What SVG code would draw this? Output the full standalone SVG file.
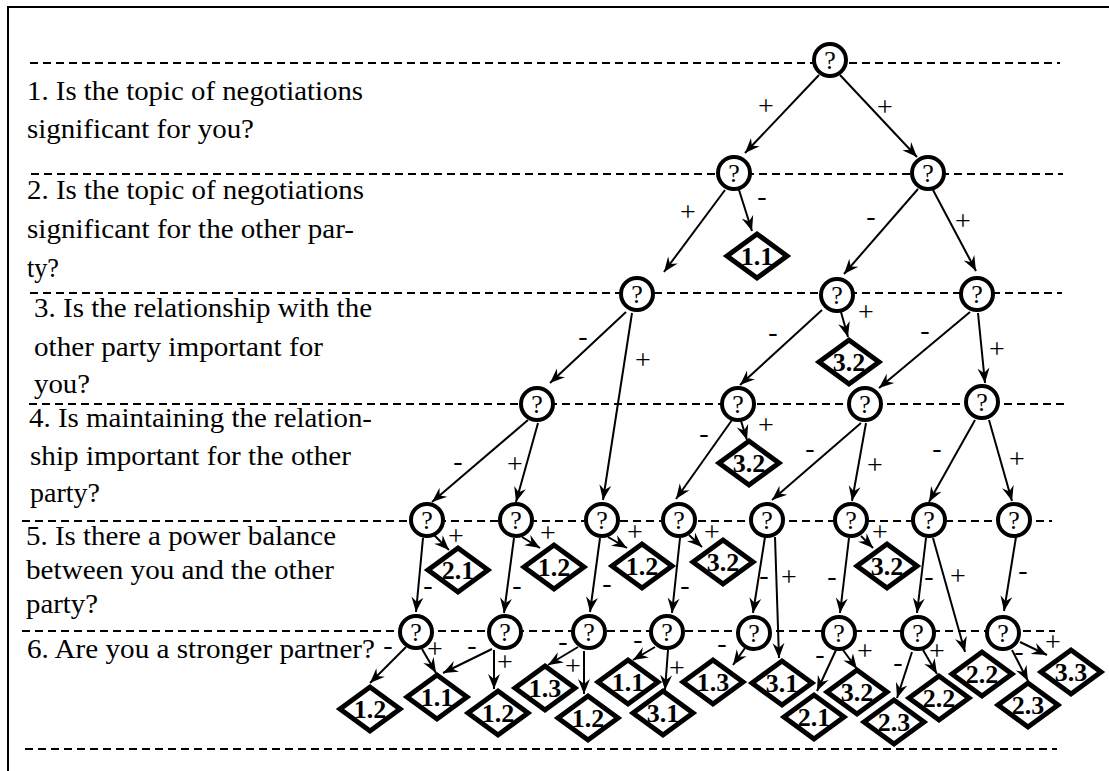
<svg xmlns="http://www.w3.org/2000/svg" xmlns:xlink="http://www.w3.org/1999/xlink" width="1109" height="771" viewBox="0 0 1109 771">
<style>
.frame{stroke:#000;stroke-width:2;fill:none}
.dash{stroke:#000;stroke-width:1.8;stroke-dasharray:8 5;fill:none}
.q circle{fill:#fff;stroke:#000;stroke-width:4}
.q text{font-family:"Liberation Serif",serif;font-size:26px;text-anchor:middle}
.leaf use{fill:#fff;stroke:#000;stroke-width:5;stroke-linejoin:miter}
.leaf text{font-family:"Liberation Serif",serif;font-weight:bold;font-size:26px;text-anchor:middle}
.edges line{stroke:#000;stroke-width:2;marker-end:url(#arr)}
.lbl text{font-family:"Liberation Serif",serif;font-size:28px;text-anchor:middle}
.qs text{font-family:"Liberation Serif",serif;font-size:28px}
</style>
<defs>
<marker id="arr" markerUnits="userSpaceOnUse" markerWidth="16" markerHeight="14" refX="15" refY="7" orient="auto">
<path d="M0,1 L15,7 L0,13 L5,7 Z" fill="#000"/>
</marker>
<path id="dia" d="M-30 0L0-22L30 0L0 22Z"/>
</defs>
<rect width="1109" height="771" fill="#fff"/>
<path class="frame" d="M8 771V7H1109"/>
<g id="guides">
<line class="dash" x1="30" y1="63" x2="1060" y2="63"/>
<line class="dash" x1="31" y1="174" x2="1063" y2="174"/>
<line class="dash" x1="30" y1="293" x2="1062" y2="293"/>
<line class="dash" x1="29" y1="404" x2="1065" y2="404"/>
<line class="dash" x1="22" y1="521" x2="1052" y2="521"/>
<line class="dash" x1="22" y1="631" x2="1055" y2="631"/>
<line class="dash" x1="25" y1="749" x2="1057" y2="749"/>
</g>
<g id="questions" class="qs">
<text x="27" y="100" textLength="336" lengthAdjust="spacingAndGlyphs">1. Is the topic of negotiations</text>
<text x="27" y="138" textLength="227" lengthAdjust="spacingAndGlyphs">significant for you?</text>
<text x="27" y="199" textLength="337" lengthAdjust="spacingAndGlyphs">2. Is the topic of negotiations</text>
<text x="27" y="238" textLength="327" lengthAdjust="spacingAndGlyphs">significant for the other par-</text>
<text x="27" y="277" textLength="32" lengthAdjust="spacingAndGlyphs">ty?</text>
<text x="34" y="317" textLength="338" lengthAdjust="spacingAndGlyphs">3. Is the relationship with the</text>
<text x="34" y="356" textLength="289" lengthAdjust="spacingAndGlyphs">other party important for</text>
<text x="34" y="393" textLength="56" lengthAdjust="spacingAndGlyphs">you?</text>
<text x="29" y="427" textLength="343" lengthAdjust="spacingAndGlyphs">4. Is maintaining the relation-</text>
<text x="30" y="465" textLength="321" lengthAdjust="spacingAndGlyphs">ship important for the other</text>
<text x="30" y="502" textLength="70" lengthAdjust="spacingAndGlyphs">party?</text>
<text x="26" y="545" textLength="310" lengthAdjust="spacingAndGlyphs">5. Is there a power balance</text>
<text x="26" y="579" textLength="308" lengthAdjust="spacingAndGlyphs">between you and the other</text>
<text x="26" y="613" textLength="72" lengthAdjust="spacingAndGlyphs">party?</text>
<text x="27" y="658" textLength="348" lengthAdjust="spacingAndGlyphs">6. Are you a stronger partner?</text>
</g>
<g id="connectors" class="edges">
<line x1="819" y1="75" x2="745" y2="153"/>
<line x1="840" y1="75" x2="917" y2="157"/>
<line x1="725" y1="190" x2="664" y2="272"/>
<line x1="739" y1="190" x2="752" y2="231"/>
<line x1="918" y1="189" x2="844" y2="274"/>
<line x1="933" y1="190" x2="976" y2="271"/>
<line x1="626" y1="312" x2="550" y2="383"/>
<line x1="632" y1="313" x2="603" y2="500"/>
<line x1="841" y1="312" x2="848" y2="337"/>
<line x1="822" y1="310" x2="740" y2="385"/>
<line x1="970" y1="312" x2="879" y2="388"/>
<line x1="978" y1="313" x2="985" y2="383"/>
<line x1="528" y1="420" x2="432" y2="502"/>
<line x1="538" y1="423" x2="516" y2="502"/>
<line x1="741" y1="421" x2="747" y2="440"/>
<line x1="732" y1="420" x2="676" y2="499"/>
<line x1="861" y1="423" x2="772" y2="500"/>
<line x1="866" y1="423" x2="852" y2="501"/>
<line x1="975" y1="420" x2="929" y2="502"/>
<line x1="989" y1="420" x2="1012" y2="501"/>
<line x1="434" y1="535" x2="449" y2="550"/>
<line x1="423" y1="538" x2="416" y2="612"/>
<line x1="522" y1="537" x2="540" y2="548"/>
<line x1="514" y1="538" x2="504" y2="613"/>
<line x1="608" y1="537" x2="627" y2="548"/>
<line x1="600" y1="538" x2="590" y2="612"/>
<line x1="689" y1="535" x2="702" y2="547"/>
<line x1="680" y1="538" x2="672" y2="613"/>
<line x1="765" y1="537" x2="753" y2="613"/>
<line x1="775" y1="537" x2="779" y2="658"/>
<line x1="861" y1="536" x2="873" y2="548"/>
<line x1="849" y1="538" x2="840" y2="613"/>
<line x1="926" y1="538" x2="917" y2="613"/>
<line x1="933" y1="538" x2="965" y2="652"/>
<line x1="1016" y1="537" x2="1004" y2="611"/>
<line x1="406" y1="647" x2="370" y2="683"/>
<line x1="422" y1="649" x2="436" y2="673"/>
<line x1="492" y1="649" x2="443" y2="673"/>
<line x1="494" y1="650" x2="494" y2="689"/>
<line x1="578" y1="647" x2="548" y2="665"/>
<line x1="584" y1="651" x2="584" y2="694"/>
<line x1="655" y1="647" x2="633" y2="660"/>
<line x1="668" y1="650" x2="665" y2="690"/>
<line x1="745" y1="648" x2="733" y2="665"/>
<line x1="836" y1="650" x2="817" y2="691"/>
<line x1="843" y1="650" x2="857" y2="669"/>
<line x1="912" y1="652" x2="897" y2="698"/>
<line x1="923" y1="650" x2="937" y2="674"/>
<line x1="1012" y1="650" x2="1028" y2="681"/>
<line x1="1020" y1="642" x2="1047" y2="655"/>
</g>
<g id="edge-labels" class="lbl">
<text x="766" y="115">+</text>
<text x="885" y="116">+</text>
<text x="688" y="221">+</text>
<text x="762" y="205">-</text>
<text x="871" y="225">-</text>
<text x="963" y="230">+</text>
<text x="583" y="345">-</text>
<text x="643" y="369">+</text>
<text x="866" y="321">+</text>
<text x="773" y="341">-</text>
<text x="925" y="339">-</text>
<text x="997" y="358">+</text>
<text x="458" y="470">-</text>
<text x="515" y="473">+</text>
<text x="766" y="434">+</text>
<text x="704" y="442">-</text>
<text x="810" y="457">-</text>
<text x="875" y="474">+</text>
<text x="937" y="457">-</text>
<text x="1017" y="468">+</text>
<text x="456" y="545">+</text>
<text x="428" y="594">-</text>
<text x="548" y="542">+</text>
<text x="517" y="594">-</text>
<text x="635" y="541">+</text>
<text x="607" y="592">-</text>
<text x="712" y="541">+</text>
<text x="685" y="594">-</text>
<text x="764" y="584">-</text>
<text x="789" y="586">+</text>
<text x="880" y="541">+</text>
<text x="832" y="585">-</text>
<text x="929" y="585">-</text>
<text x="958" y="585">+</text>
<text x="1023" y="579">-</text>
<text x="388" y="654">-</text>
<text x="435" y="658">+</text>
<text x="472" y="654">-</text>
<text x="505" y="671">+</text>
<text x="563" y="650">-</text>
<text x="573" y="675">+</text>
<text x="638" y="648">-</text>
<text x="677" y="677">+</text>
<text x="722" y="652">-</text>
<text x="820" y="663">-</text>
<text x="865" y="660">+</text>
<text x="898" y="671">-</text>
<text x="937" y="660">+</text>
<text x="1019" y="660">-</text>
<text x="1053" y="651">+</text>
</g>
<g id="n1" class="q"><circle cx="830" cy="60" r="16"/><text x="830" y="69">?</text></g>
<g id="n2a" class="q"><circle cx="734" cy="173" r="16"/><text x="734" y="182">?</text></g>
<g id="n2b" class="q"><circle cx="928" cy="173" r="16"/><text x="928" y="182">?</text></g>
<g id="n3a" class="q"><circle cx="637" cy="294" r="16"/><text x="637" y="303">?</text></g>
<g id="n3b" class="q"><circle cx="837" cy="295" r="16"/><text x="837" y="304">?</text></g>
<g id="n3c" class="q"><circle cx="977" cy="294" r="16"/><text x="977" y="303">?</text></g>
<g id="n4a" class="q"><circle cx="537" cy="404" r="16"/><text x="537" y="413">?</text></g>
<g id="n4b" class="q"><circle cx="738" cy="404" r="16"/><text x="738" y="413">?</text></g>
<g id="n4c" class="q"><circle cx="865" cy="404" r="16"/><text x="865" y="413">?</text></g>
<g id="n4d" class="q"><circle cx="982" cy="402" r="16"/><text x="982" y="411">?</text></g>
<g id="n5a" class="q"><circle cx="427" cy="520" r="16"/><text x="427" y="529">?</text></g>
<g id="n5b" class="q"><circle cx="516" cy="520" r="16"/><text x="516" y="529">?</text></g>
<g id="n5c" class="q"><circle cx="602" cy="520" r="16"/><text x="602" y="529">?</text></g>
<g id="n5d" class="q"><circle cx="679" cy="520" r="16"/><text x="679" y="529">?</text></g>
<g id="n5e" class="q"><circle cx="767" cy="520" r="16"/><text x="767" y="529">?</text></g>
<g id="n5f" class="q"><circle cx="851" cy="520" r="16"/><text x="851" y="529">?</text></g>
<g id="n5g" class="q"><circle cx="929" cy="520" r="16"/><text x="929" y="529">?</text></g>
<g id="n5h" class="q"><circle cx="1014" cy="520" r="16"/><text x="1014" y="529">?</text></g>
<g id="n6a" class="q"><circle cx="416" cy="632" r="16"/><text x="416" y="641">?</text></g>
<g id="n6b" class="q"><circle cx="505" cy="632" r="16"/><text x="505" y="641">?</text></g>
<g id="n6c" class="q"><circle cx="589" cy="632" r="16"/><text x="589" y="641">?</text></g>
<g id="n6d" class="q"><circle cx="667" cy="632" r="16"/><text x="667" y="641">?</text></g>
<g id="n6e" class="q"><circle cx="754" cy="633" r="16"/><text x="754" y="642">?</text></g>
<g id="n6f" class="q"><circle cx="839" cy="633" r="16"/><text x="839" y="642">?</text></g>
<g id="n6g" class="q"><circle cx="918" cy="633" r="16"/><text x="918" y="642">?</text></g>
<g id="n6h" class="q"><circle cx="1003" cy="633" r="16"/><text x="1003" y="642">?</text></g>
<g id="r2" class="leaf"><use xlink:href="#dia" x="757" y="256"/><text x="757" y="265">1.1</text></g>
<g id="r3" class="leaf"><use xlink:href="#dia" x="849" y="362"/><text x="849" y="371">3.2</text></g>
<g id="r4" class="leaf"><use xlink:href="#dia" x="749" y="463"/><text x="749" y="472">3.2</text></g>
<g id="r5a" class="leaf"><use xlink:href="#dia" x="458" y="570"/><text x="458" y="579">2.1</text></g>
<g id="r5b" class="leaf"><use xlink:href="#dia" x="554" y="567"/><text x="554" y="576">1.2</text></g>
<g id="r5c" class="leaf"><use xlink:href="#dia" x="642" y="566"/><text x="642" y="575">1.2</text></g>
<g id="r5d" class="leaf"><use xlink:href="#dia" x="723" y="562"/><text x="723" y="571">3.2</text></g>
<g id="r5e" class="leaf"><use xlink:href="#dia" x="887" y="566"/><text x="887" y="575">3.2</text></g>
<g id="r6a" class="leaf"><use xlink:href="#dia" x="628" y="682"/><text x="628" y="691">1.1</text></g>
<g id="r6b" class="leaf"><use xlink:href="#dia" x="713" y="682"/><text x="713" y="691">1.3</text></g>
<g id="r6c" class="leaf"><use xlink:href="#dia" x="782" y="683"/><text x="782" y="692">3.1</text></g>
<g id="r6d" class="leaf"><use xlink:href="#dia" x="982" y="674"/><text x="982" y="683">2.2</text></g>
<g id="r6e" class="leaf"><use xlink:href="#dia" x="1071" y="672"/><text x="1071" y="681">3.3</text></g>
<g id="r6f" class="leaf"><use xlink:href="#dia" x="545" y="688"/><text x="545" y="697">1.3</text></g>
<g id="r6g" class="leaf"><use xlink:href="#dia" x="857" y="692"/><text x="857" y="701">3.2</text></g>
<g id="r6h" class="leaf"><use xlink:href="#dia" x="437" y="697"/><text x="437" y="706">1.1</text></g>
<g id="r6i" class="leaf"><use xlink:href="#dia" x="939" y="698"/><text x="939" y="707">2.2</text></g>
<g id="r6j" class="leaf"><use xlink:href="#dia" x="1028" y="705"/><text x="1028" y="714">2.3</text></g>
<g id="r6k" class="leaf"><use xlink:href="#dia" x="370" y="709"/><text x="370" y="718">1.2</text></g>
<g id="r6l" class="leaf"><use xlink:href="#dia" x="498" y="713"/><text x="498" y="722">1.2</text></g>
<g id="r6m" class="leaf"><use xlink:href="#dia" x="663" y="713"/><text x="663" y="722">3.1</text></g>
<g id="r6n" class="leaf"><use xlink:href="#dia" x="814" y="717"/><text x="814" y="726">2.1</text></g>
<g id="r6o" class="leaf"><use xlink:href="#dia" x="588" y="718"/><text x="588" y="727">1.2</text></g>
<g id="r6p" class="leaf"><use xlink:href="#dia" x="894" y="722"/><text x="894" y="731">2.3</text></g>
</svg>
